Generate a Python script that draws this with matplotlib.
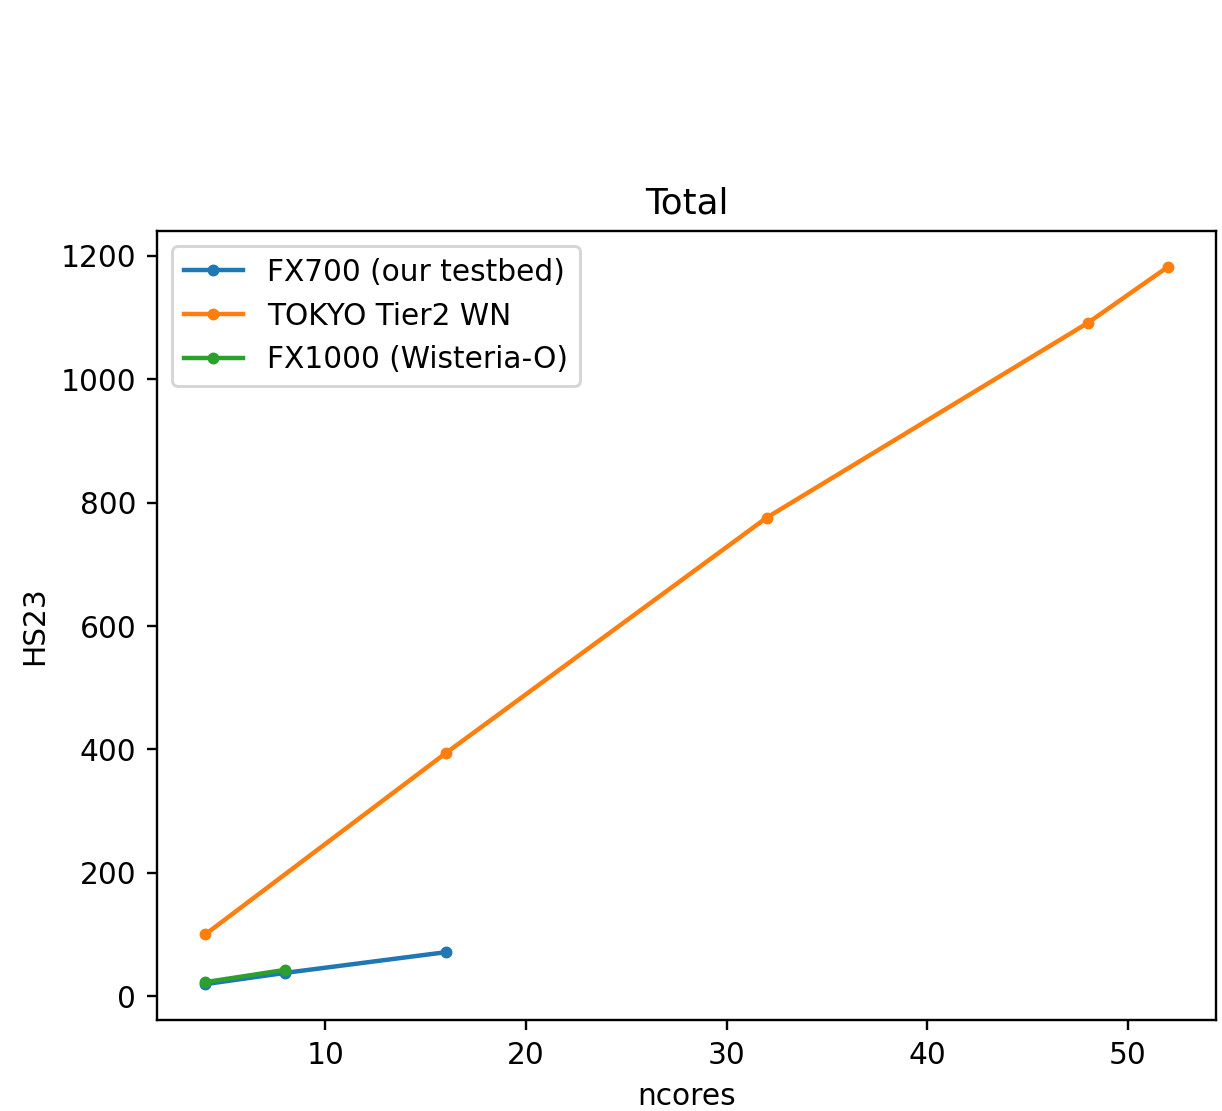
import matplotlib
matplotlib.use('Agg')
import matplotlib.pyplot as plt

# core counts and HS23 scores
fx700_cores = [4, 8, 16]
fx700_hs23 = [19.5, 37.8, 71.3]

tokyo_cores = [4, 16, 32, 48, 52]
tokyo_hs23 = [100, 394, 775.6, 1091, 1182]

fx1000_cores = [4, 8]
fx1000_hs23 = [22.7, 42.7]

dpi = 213.6
fig = plt.figure(figsize=(1222 / dpi, 1111 / dpi), dpi=dpi)
ax = fig.add_axes([0.1285, 0.0819, 0.8665, 0.7101])

ax.plot(fx700_cores, fx700_hs23, marker='.', label='FX700 (our testbed)')
ax.plot(tokyo_cores, tokyo_hs23, marker='.', label='TOKYO Tier2 WN')
ax.plot(fx1000_cores, fx1000_hs23, marker='.', label='FX1000 (Wisteria-O)')

ax.set_title('Total')
ax.set_xlabel('ncores')
ax.set_ylabel('HS23')
ax.legend(loc='upper left')

fig.savefig('out.png', dpi=dpi)
